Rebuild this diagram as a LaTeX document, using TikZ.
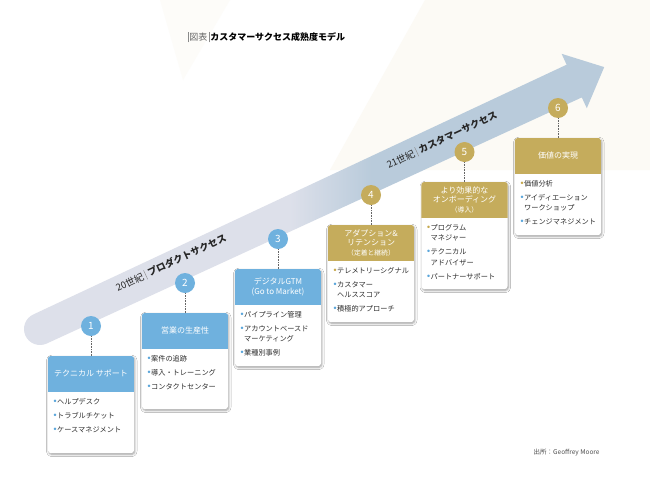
\documentclass[tikz,border=0pt]{standalone}
\usepackage{fontspec}
\setmainfont{Noto Sans CJK JP}
\newfontfamily\dvfont{DejaVu Sans}
\usetikzlibrary{shadows.blur}
\definecolor{hblue}{HTML}{6FB1DE}
\definecolor{hgold}{HTML}{C5AC5C}
\definecolor{bblue}{HTML}{5BA6DB}
\definecolor{bgold}{HTML}{C6A94F}
\definecolor{itxt}{HTML}{2E2E2E}
\definecolor{bandL}{HTML}{DDE0EA}
\definecolor{bandR}{HTML}{B9CBDB}
\definecolor{cream}{HTML}{FCFAF5}
\definecolor{cream2}{HTML}{FDFCF9}
\definecolor{tgray}{HTML}{666666}
\definecolor{tbar}{HTML}{8A8A8A}
\colorlet{bulc}{bblue}
\pgfdeclarehorizontalshading{bandsh}{100bp}{color(0bp)=(bandL); color(48bp)=(bandL); color(55bp)=(bandR); color(100bp)=(bandR)}
\newcommand\itmb{\makebox[4.6pt][l]{\textcolor{bulc}{\dvfont\fontsize{8.5}{8}\selectfont •}}}
\newcommand\itmi{\hspace*{4.6pt}}
\newcommand\stagebox[9]{%
  \node[bodybox, minimum height=#4pt, anchor=north] (b#1) at (#2,#3) {};
  \begin{scope}
    \clip[rounded corners=3pt] (b#1.north west) rectangle (b#1.south east);
    \fill[#5] (b#1.north west) rectangle ([yshift=-35.5pt]b#1.north east);
  \end{scope}
  \node[hdrtext] (h#1) at ([yshift=-17.75pt]b#1.north) {#7};
  \node[items] (l#1) at ([xshift=4.5pt,yshift=-42pt]b#1.north west) {\colorlet{bulc}{#9}#8};
  \node[numcirc, fill=#5] (c#1) at (#2,#3-30) {#6};
  \draw[conn] (c#1) -- (b#1);
}
\begin{document}
\begin{tikzpicture}[x=1pt,y=-1pt,
  bodybox/.style={rectangle, rounded corners=3pt, fill=white, minimum width=86pt, inner sep=0pt,
    blur shadow={shadow xshift=0.8pt, shadow yshift=-1.2pt, shadow blur radius=2.2pt, shadow opacity=40}},
  hdrtext/.style={text=white, align=center, inner sep=0pt, font=\fontsize{8}{9.6}\selectfont},
  items/.style={anchor=north west, align=left, inner sep=0pt, text=itxt, font=\fontsize{7.2}{10.5}\selectfont},
  numcirc/.style={circle, minimum size=20pt, inner sep=0pt, text=white, font=\fontsize{10}{10}\selectfont},
  conn/.style={densely dotted, line width=0.6pt, color=gray!80!black},
  bandtext/.style={inner sep=0pt, text=black!85, font=\fontsize{9.5}{10}\selectfont}]
\useasboundingbox (0,0) rectangle (650,485);
\fill[white] (0,0) rectangle (650,485);
% faint background shapes
\fill[cream] (425,0) -- (650,0) -- (650,170) -- (330,170) -- cycle;
\fill[cream2] (160,0) -- (230,0) -- (183,80) -- cycle;
% band arrow
\shade[shading=bandsh] (33.26,314.49) -- (566.6,64.7) -- (561.6,53.8) -- (604.2,67.1)
  -- (586.8,108.2) -- (581.8,97.4) -- (46.74,343.51) arc (65.1:245.1:16) -- cycle;
% title
\node[anchor=west, inner sep=0pt, font=\fontsize{9}{10}\selectfont] (title) at (187.5,37)
  {\textcolor{tbar}{\rule[-1.6pt]{0.5pt}{10.5pt}}\hspace{1.2pt}\textcolor{tgray}{図表}\hspace{1.2pt}\textcolor{tbar}{\rule[-1.6pt]{0.5pt}{10.5pt}}\hspace{1.2pt}\textbf{カスタマーサクセス成熟度モデル}};
% band labels
\node[bandtext, rotate=24.9] (t20) at (171,263)
  {20世紀\hspace{2.5pt}\textcolor{tbar}{\rule[-1.5pt]{0.45pt}{10pt}}\hspace{2.5pt}\textbf{プロダクトサクセス}};
\node[bandtext, rotate=24.9] (t21) at (442,140)
  {21世紀\hspace{2.5pt}\textcolor{tbar}{\rule[-1.5pt]{0.45pt}{10pt}}\hspace{2.5pt}\textbf{カスタマーサクセス}};
% stages
\stagebox{1}{91}{356}{97}{hblue}{1}{テクニカル サポート}
  {\itmb ヘルプデスク\\[3.5pt]\itmb トラブルチケット\\[3.5pt]\itmb ケースマネジメント}{bblue}
\stagebox{2}{185}{313}{96}{hblue}{2}{営業の生産性}
  {\itmb 案件の追跡\\[3.5pt]\itmb 導入・トレーニング\\[3.5pt]\itmb コンタクトセンター}{bblue}
\stagebox{3}{278}{269}{97}{hblue}{3}{デジタルGTM\\(Go to Market)}
  {\itmb パイプライン管理\\[3.5pt]\itmb アカウントベースド\\\itmi マーケティング\\[3.5pt]\itmb 業種別事例}{bblue}
\stagebox{4}{371}{225}{97}{hgold}{4}{アダプション\&\\リテンション\\{\fontsize{6.8}{9.6}\selectfont （定着と継続）}}
  {\itmb テレメトリーシグナル\\[3.5pt]\itmb カスタマー\\\itmi ヘルススコア\\[3.5pt]\itmb 積極的アプローチ}{bgold}
\stagebox{5}{464.5}{182}{107}{hgold}{5}{より効果的な\\オンボーディング\\{\fontsize{6.8}{9.6}\selectfont （導入）}}
  {\itmb プログラム\\\itmi マネジャー\\[3.5pt]\itmb テクニカル\\\itmi アドバイザー\\[3.5pt]\itmb パートナーサポート}{bgold}
\stagebox{6}{558}{138}{97}{hgold}{6}{価値の実現}
  {\itmb 価値分析\\[3.5pt]\itmb アイディエーション\\\itmi ワークショップ\\[3.5pt]\itmb チェンジマネジメント}{bgold}
% source
\node[anchor=west, inner sep=0pt, text=black!70, font=\fontsize{6.5}{8}\selectfont] (src) at (533.5,453) {出所：Geoffrey Moore};
\end{tikzpicture}
\end{document}
